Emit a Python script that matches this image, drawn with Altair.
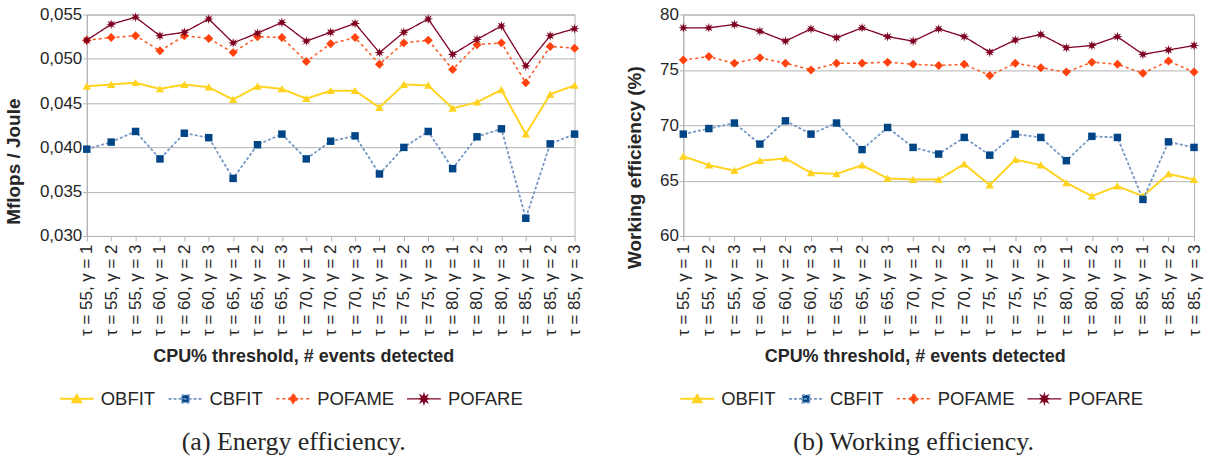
import math
import altair as alt
import pandas as pd

# ---- data -------------------------------------------------------------
thresholds = [55, 60, 65, 70, 75, 80, 85]
gammas = [1, 2, 3]
categories = [f"τ = {t}, γ = {g}" for t in thresholds for g in gammas]
series = ["OBFIT", "CBFIT", "POFAME", "POFARE"]

energy_obfit = [0.0469, 0.0471, 0.0473, 0.0466, 0.0471, 0.0468, 0.0454, 0.0469, 0.0466, 0.0455, 0.0464,
                0.0464, 0.0445, 0.0471, 0.0470, 0.0444, 0.0451, 0.0465, 0.0415, 0.0460, 0.0470]
energy_cbfit = [0.0398, 0.0406, 0.0418, 0.0387, 0.0416, 0.0411, 0.0365, 0.0403, 0.0415, 0.0387, 0.0407,
                0.0413, 0.0370, 0.0400, 0.0418, 0.0376, 0.0412, 0.0421, 0.0320, 0.0404, 0.0415]
energy_pofame = [0.0521, 0.0524, 0.0526, 0.0509, 0.0526, 0.0523, 0.0507, 0.0525, 0.0524, 0.0497, 0.0517,
                 0.0524, 0.0494, 0.0518, 0.0521, 0.0488, 0.0516, 0.0518, 0.0473, 0.0514, 0.0512]
energy_pofare = [0.0521, 0.0539, 0.0547, 0.0526, 0.0530, 0.0545, 0.0518, 0.0529, 0.0541, 0.0520, 0.0530,
                 0.0540, 0.0507, 0.0530, 0.0545, 0.0505, 0.0522, 0.0537, 0.0492, 0.0526, 0.0534]

work_obfit = [67.2, 66.4, 65.9, 66.8, 67.0, 65.7, 65.6, 66.4, 65.2, 65.1, 65.1,
              66.5, 64.6, 66.9, 66.4, 64.8, 63.6, 64.5, 63.6, 65.6, 65.1]
work_cbfit = [69.2, 69.7, 70.2, 68.3, 70.4, 69.2, 70.2, 67.8, 69.8, 68.0, 67.4,
              68.9, 67.3, 69.2, 68.9, 66.8, 69.0, 68.9, 63.3, 68.5, 68.0]
work_pofame = [75.9, 76.2, 75.6, 76.1, 75.6, 75.0, 75.6, 75.6, 75.7, 75.5, 75.4,
               75.5, 74.5, 75.6, 75.2, 74.8, 75.7, 75.5, 74.7, 75.8, 74.8]
work_pofare = [78.8, 78.8, 79.1, 78.5, 77.6, 78.7, 77.9, 78.8, 78.0, 77.6, 78.7,
               78.0, 76.6, 77.7, 78.2, 77.0, 77.2, 78.0, 76.4, 76.8, 77.2]

energy_ticks = [0.030, 0.035, 0.040, 0.045, 0.050, 0.055]
work_ticks = [60, 65, 70, 75, 80]


def long_frame(columns):
    rows = []
    for name, values in zip(series, columns):
        for i, (cat, v) in enumerate(zip(categories, values)):
            rows.append({"cat": cat, "idx": i, "series": name, "value": v})
    return pd.DataFrame(rows)


energy_df = long_frame([energy_obfit, energy_cbfit, energy_pofame, energy_pofare])
work_df = long_frame([work_obfit, work_cbfit, work_pofame, work_pofare])

# ---- styling ------------------------------------------------------------
SANS = "Liberation Sans"
SERIF = "Liberation Serif"
TEXT = "#262626"
GRID = "#b3b3b3"

marker_colors = ["#ffd320", "#004586", "#ff420e", "#7e0021"]
line_colors = ["#ffd320", "#7396c4", "#ff5a26", "#7e0021"]
line_dashes = [[1, 0], [3, 2], [3, 3], [1, 0]]
line_widths = [2, 1.3, 1.8, 2]


def poly_path(pts, k=1.0):
    return "M" + "L".join(f"{x * k:.3f},{y * k:.3f}" for x, y in pts) + "Z"


TRI = [(0, -0.9), (1, 0.8), (-1, 0.8)]
SQR = [(-1, -1), (1, -1), (1, 1), (-1, 1)]
DIA = [(0, -1), (1, 0), (0, 1), (-1, 0)]
STAR = [((1.0 if i % 2 == 0 else 0.42) * math.sin(i * math.pi / 8),
         -(1.0 if i % 2 == 0 else 0.42) * math.cos(i * math.pi / 8)) for i in range(16)]

marker_polys = [TRI, SQR, DIA, STAR]
marker_sizes = [72, 56, 81, 100]
legend_scale = [0.25, 0.22, 0.27, 0.29]

marker_paths = [poly_path(p) for p in marker_polys]
legend_paths = ["M-1,0H1" + poly_path(p, k) for p, k in zip(marker_polys, legend_scale)]


def panel(df, y_title, domain, ticks, label_expr, width, y_title_x, y_title_y,
          x_title_x, legend_x, caption):
    base = alt.Chart(df)
    x = alt.X(
        "cat:N", sort=categories,
        scale=alt.Scale(type="point", padding=0),
        axis=alt.Axis(
            title="CPU% threshold, # events detected",
            labelAngle=-90, labelAlign="right", labelBaseline="middle",
            labelFont=SANS, labelFontSize=17, labelColor=TEXT, labelPadding=3,
            labelOverlap=False, tickSize=5, tickColor=GRID, domainColor=GRID,
            grid=False, titleFont=SANS, titleFontSize=18, titleFontWeight="bold",
            titleColor=TEXT, titleX=x_title_x, titleY=121, titleBaseline="middle",
            titleAlign="center",
        ),
    )
    y = alt.Y(
        "value:Q",
        scale=alt.Scale(domain=domain, nice=False, zero=False),
        axis=alt.Axis(
            title=y_title, values=ticks, labelExpr=label_expr,
            labelFont=SANS, labelFontSize=17, labelColor=TEXT, labelPadding=1,
            tickSize=4, tickColor=GRID, domainColor=GRID,
            grid=True, gridColor=GRID, gridWidth=1,
            titleFont=SANS, titleFontSize=19, titleFontWeight="bold", titleColor=TEXT,
            titleX=y_title_x, titleY=y_title_y, titleBaseline="middle", titleAlign="center",
        ),
    )
    order = alt.Order("idx:Q")
    fill_scale = alt.Scale(domain=series, range=marker_colors)
    stroke_scale = alt.Scale(domain=series, range=line_colors)
    dash_scale = alt.Scale(domain=series, range=line_dashes)

    leg = alt.Legend(
        title=None, orient="none", legendX=legend_x, legendY=367, direction="horizontal",
        columns=4, symbolSize=1156, symbolStrokeWidth=2, labelFont=SANS, labelFontSize=18.5,
        labelColor=TEXT, labelOffset=6, columnPadding=9, symbolOpacity=1,
    )
    # legend carrier: its marks sit below the y domain and are clipped away
    legend_layer = base.mark_point(clip=True, filled=True).encode(
        x=x, y=alt.datum(domain[0] - 100),
        fill=alt.Fill("series:N", scale=fill_scale, legend=leg),
        stroke=alt.Stroke("series:N", scale=stroke_scale, legend=leg),
        strokeDash=alt.StrokeDash("series:N", scale=dash_scale, legend=leg),
        shape=alt.Shape("series:N", scale=alt.Scale(domain=series, range=legend_paths), legend=leg),
    )

    lines = base.mark_line().encode(
        x=x, y=y, order=order,
        stroke=alt.Stroke("series:N", scale=stroke_scale, legend=None),
        strokeDash=alt.StrokeDash("series:N", scale=dash_scale, legend=None),
        strokeWidth=alt.StrokeWidth("series:N", scale=alt.Scale(domain=series, range=line_widths), legend=None),
    )

    points = [
        base.transform_filter(alt.datum.series == name)
        .mark_point(shape=path, size=size, filled=True, opacity=1, strokeWidth=0)
        .encode(x=x, y=y, fill=alt.Fill("series:N", scale=fill_scale, legend=None))
        for name, path, size in zip(series, marker_paths, marker_sizes)
    ]

    return alt.layer(legend_layer, lines, *points).properties(
        width=width, height=222,
        title=alt.TitleParams(caption, orient="bottom", anchor="middle", frame="bounds",
                              font=SERIF, fontSize=26, fontWeight="normal", color=TEXT,
                              offset=21),
    )


left = panel(
    energy_df, "Mflops / Joule", [0.030, 0.055], energy_ticks,
    "replace(format(datum.value, '.3f'), '.', ',')",
    width=489, y_title_x=-73, y_title_y=147, x_title_x=217, legend_x=-28,
    caption="(a)  Energy efficiency.",
)
right = panel(
    work_df, "Working efficiency (%)", [60, 80], work_ticks,
    "format(datum.value, 'd')",
    width=512, y_title_x=-49, y_title_y=153, x_title_x=232, legend_x=-4,
    caption="(b)  Working efficiency.",
)

chart = (
    alt.hconcat(left, right, spacing=41)
    .resolve_scale(fill="independent", stroke="independent", strokeDash="independent",
                   strokeWidth="independent", shape="independent")
    .resolve_legend(fill="independent", stroke="independent", strokeDash="independent",
                    shape="independent")
    .properties(padding={"left": 4, "top": 4, "right": 3, "bottom": 0}, background="white")
    .configure_view(stroke=GRID)
)

chart.save("out.html", embed_options={"renderer": "svg", "actions": False})
